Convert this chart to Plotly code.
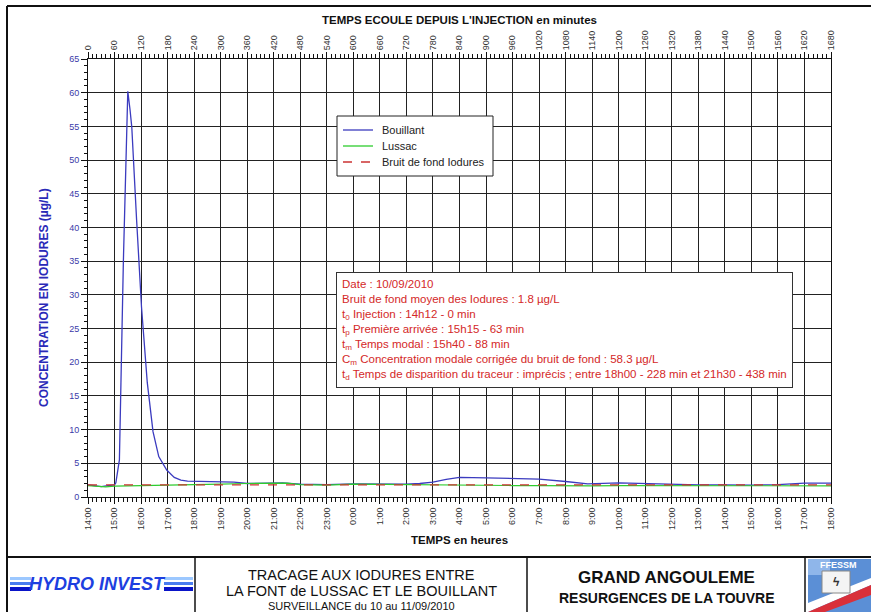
import plotly.graph_objects as go

# ---------------- data ----------------
minute_ticks = list(range(0, 1681, 60))
hour_labels = ["14:00", "15:00", "16:00", "17:00", "18:00", "19:00", "20:00", "21:00",
               "22:00", "23:00", "0:00", "1:00", "2:00", "3:00", "4:00", "5:00", "6:00",
               "7:00", "8:00", "9:00", "10:00", "11:00", "12:00", "13:00", "14:00",
               "15:00", "16:00", "17:00", "18:00"]

bouillant_min = [0, 15, 30, 45, 60, 63, 67, 71, 80, 90, 95, 99, 110, 121, 134, 147, 160,
                 178, 195, 210, 225, 260, 300, 330, 360, 400, 440, 480, 540, 600, 660,
                 720, 750, 780, 810, 840, 900, 960, 1020, 1080, 1130, 1200, 1260, 1320,
                 1380, 1440, 1500, 1560, 1620, 1680]
bouillant_val = [1.8, 1.7, 1.55, 1.7, 1.8, 2.1, 3.5, 5.5, 35.0, 60.2, 57.5, 54.9, 41.0,
                 28.2, 17.0, 9.7, 6.0, 4.0, 2.9, 2.5, 2.35, 2.3, 2.35, 2.2, 2.0, 2.1, 2.1,
                 1.9, 1.85, 1.95, 1.9, 1.9, 2.0, 2.2, 2.6, 2.9, 2.85, 2.7, 2.65, 2.3, 1.95,
                 2.1, 2.0, 1.85, 1.8, 1.8, 1.75, 1.85, 2.05, 2.05]

lussac_min = [0, 20, 40, 60, 120, 180, 240, 300, 360, 420, 450, 480, 540, 600, 660, 720,
              780, 840, 900, 960, 1020, 1080, 1140, 1200, 1260, 1320, 1380, 1440, 1500,
              1560, 1620, 1680]
lussac_val = [1.7, 1.6, 1.5, 1.6, 1.65, 1.7, 1.75, 1.9, 2.0, 2.1, 2.05, 1.85, 1.75, 1.9,
              1.85, 1.8, 1.75, 1.7, 1.65, 1.7, 1.7, 1.65, 1.65, 1.7, 1.7, 1.65, 1.65,
              1.65, 1.65, 1.6, 1.65, 1.65]

bruit_min = [0, 1680]
bruit_val = [1.8, 1.8]

series_names = ["Bouillant", "Lussac", "Bruit de fond Iodures"]

info_lines = [
    "Date : 10/09/2010",
    "Bruit de fond moyen des Iodures : 1.8 µg/L",
    "t<sub>0</sub> Injection : 14h12 - 0 min",
    "t<sub>p</sub> Première arrivée : 15h15 - 63 min",
    "t<sub>m</sub> Temps modal : 15h40 - 88 min",
    "C<sub>m</sub> Concentration modale corrigée du bruit de fond : 58.3 µg/L",
    "t<sub>d</sub> Temps de disparition du traceur : imprécis ; entre 18h00 - 228 min et 21h30 - 438 min",
]

# ---------------- geometry helpers ----------------
W, H = 871, 612
L, R, T, B = 88, 831, 59, 497
FONT = "Arial, Liberation Sans, sans-serif"
COLORS = ["#3b3bbf", "#2ecc2e", "#cc3333"]
DASHES = ["solid", "solid", "dash"]


def px(x):
    return (x - L) / (R - L)


def py(y):
    return (B - y) / (B - T)


fig = go.Figure()
fig.add_trace(go.Scatter(x=bouillant_min, y=bouillant_val, mode="lines", name=series_names[0],
                         showlegend=False, line=dict(color=COLORS[0], width=1.3)))
fig.add_trace(go.Scatter(x=lussac_min, y=lussac_val, mode="lines", name=series_names[1],
                         showlegend=False, line=dict(color=COLORS[1], width=1.2)))
fig.add_trace(go.Scatter(x=bruit_min, y=bruit_val, mode="lines", name=series_names[2],
                         showlegend=False, line=dict(color=COLORS[2], width=1.2, dash="dash")))
# invisible trace on the top (minutes) axis
fig.add_trace(go.Scatter(x=bruit_min, y=bruit_val, mode="lines", xaxis="x2",
                         showlegend=False, hoverinfo="skip",
                         line=dict(color="rgba(0,0,0,0)", width=0)))

shapes = []
annotations = []


def line(x0, y0, x1, y1, w=2, c="#111", dash="solid"):
    shapes.append(dict(type="line", xref="paper", yref="paper", x0=px(x0), y0=py(y0),
                       x1=px(x1), y1=py(y1), line=dict(color=c, width=w, dash=dash)))


def rect(x0, y0, x1, y1, fill, lc=None):
    shapes.append(dict(type="rect", xref="paper", yref="paper", x0=px(x0), y0=py(y0),
                       x1=px(x1), y1=py(y1), fillcolor=fill,
                       line=dict(color=lc or fill, width=0 if lc is None else 1)))


def text(x, y, s, size, color="#111", xa="center", ya="middle", angle=0):
    annotations.append(dict(xref="paper", yref="paper", x=px(x), y=py(y), text=s,
                            showarrow=False, xanchor=xa, yanchor=ya, textangle=angle,
                            borderpad=0,
                            font=dict(family=FONT, size=size, color=color)))


# outer frame and footer boxes
line(7, 6, W + 5, 6, 2)
line(7, 6, 7, H + 5, 2)
line(7, 557, W + 5, 557, 2)
line(195, 557, 195, H + 5, 1.5)
line(527, 557, 527, H + 5, 1.5)
line(805, 557, 805, H + 5, 1.5)

# HYDRO INVEST logo
for (a, b) in [(10, 31), (164, 193)]:
    rect(a, 577, b, 580, "#9cc8ff")
    rect(a, 582, b, 585, "#4a7cf0")
    rect(a, 587, b, 591, "#0a14c8")
text(97, 584, "<b><i>HYDRO INVEST</i></b>", 18, "#1d3fe0")

# FFESSM logo approximation
rect(808, 559, W + 2, H + 2, "#5b8fd6")
rect(808, 559, 830, 575, "#8fb6ea")
shapes.append(dict(type="path", xref="paper", yref="paper",
                   path="M %f %f L %f %f L %f %f L %f %f Z" % (
                       px(808), py(603), px(871), py(578), px(871), py(585), px(808), py(612)),
                   fillcolor="#ffffff", line=dict(width=0)))
shapes.append(dict(type="path", xref="paper", yref="paper",
                   path="M %f %f L %f %f L %f %f L %f %f Z" % (
                       px(808), py(612), px(871), py(585), px(871), py(595), px(825), py(612)),
                   fillcolor="#d9303a", line=dict(width=0)))
rect(822, 571, 850, 593, "#f4f4f4", "#888")
text(838, 565, "<b>FFESSM</b>", 9, "white")
text(836, 582, "<b>ϟ</b>", 12, "#333")

# footer texts
text(361, 575, "TRACAGE AUX IODURES ENTRE", 14.5)
text(361, 591, "LA FONT de LUSSAC ET LE BOUILLANT", 14.5)
text(361, 606, "SURVEILLANCE du 10 au 11/09/2010", 11)
text(666, 577, "<b>GRAND ANGOULEME</b>", 17)
text(666, 598, "<b>RESURGENCES DE LA TOUVRE</b>", 14)

# axis titles
text(460, 20, "<b>TEMPS ECOULE DEPUIS L'INJECTION en minutes</b>", 11.5)
text(460, 540, "<b>TEMPS en heures</b>", 11.5)
text(44, 298, "<b>CONCENTRATION EN IODURES (µg/L)</b>", 12, "#2a2ab8", angle=-90)

# legend (drawn box)
rect(337, 116, 493, 176, "white", "#222")
leg_y = [130, 146, 162]
for name, c, d, yy in zip(series_names, COLORS, DASHES, leg_y):
    line(343, yy, 373, yy, 1.3, c, d)
    text(381, yy, name, 11, "#222", xa="left")

# info box
annotations.append(dict(xref="paper", yref="paper", x=px(336), y=py(272),
                        xanchor="left", yanchor="top", align="left",
                        text="<br>".join(info_lines), showarrow=False,
                        bgcolor="white", bordercolor="#333", borderwidth=1, borderpad=5,
                        font=dict(family=FONT, size=11.5, color="#d42828")))

fig.update_layout(
    width=W, height=H,
    margin=dict(l=L, r=W - R, t=T, b=H - B),
    paper_bgcolor="white", plot_bgcolor="white",
    font=dict(family=FONT, size=9, color="#333"),
    shapes=shapes, annotations=annotations,
    showlegend=False,
    xaxis=dict(range=[0, 1680], tickvals=minute_ticks, ticktext=hour_labels,
               tickangle=-90, showgrid=True, gridcolor="#222", gridwidth=1,
               showline=True, linecolor="#111", linewidth=1, mirror=False,
               ticks="outside", ticklen=6, tickcolor="#111", zeroline=False,
               tickfont=dict(size=9, color="#333"),
               minor=dict(dtick=10, ticks="outside", ticklen=4, tickcolor="#111", showgrid=False)),
    xaxis2=dict(range=[0, 1680], overlaying="x", side="top", anchor="y",
                tickvals=minute_ticks, ticktext=[str(m) for m in minute_ticks],
                tickangle=-90, showgrid=False, showline=True, linecolor="#111", linewidth=1,
                ticks="outside", ticklen=6, tickcolor="#111", zeroline=False,
                tickfont=dict(size=9, color="#333"),
                minor=dict(dtick=10, ticks="outside", ticklen=4, tickcolor="#111")),
    yaxis=dict(range=[0, 65], dtick=5, showgrid=True, gridcolor="#222", gridwidth=1,
               showline=True, linecolor="#111", linewidth=1, mirror=True,
               ticks="outside", ticklen=6, tickcolor="#111", zeroline=False,
               tickfont=dict(size=9, color="#3a3aa8"),
               minor=dict(dtick=1, ticks="outside", ticklen=3, tickcolor="#111", showgrid=False)),
)

fig.write_html("out.html", config={"displayModeBar": False},
               post_script="document.body.style.margin='0';document.body.style.overflow='hidden';")
